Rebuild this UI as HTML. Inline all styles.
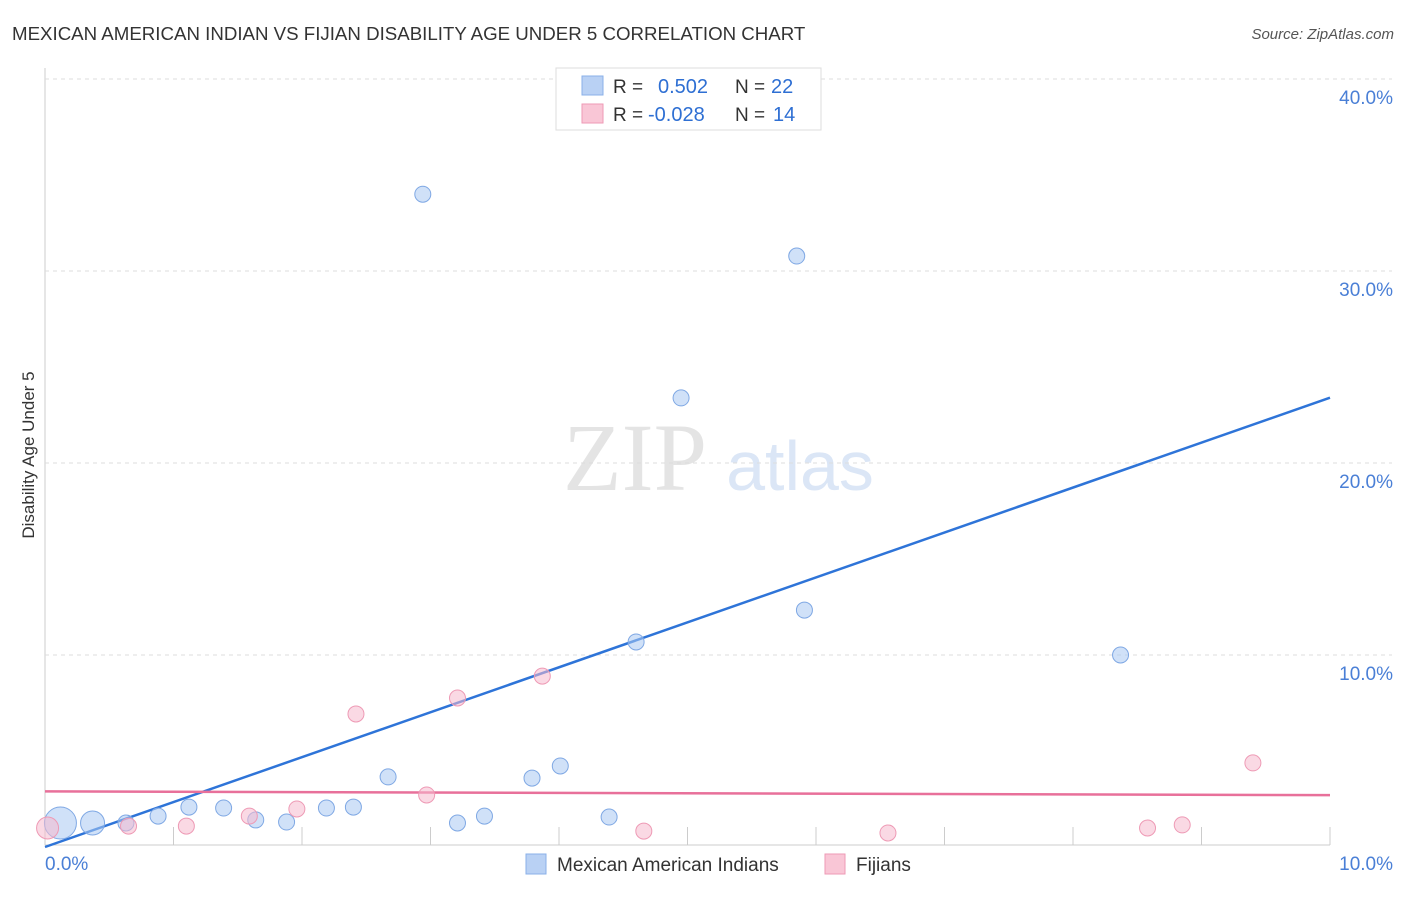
<!DOCTYPE html>
<html><head><meta charset="utf-8"><style>
body{margin:0;background:#fff;font-family:"Liberation Sans",sans-serif}
svg text{font-family:"Liberation Sans",sans-serif}
</style></head><body>
<svg id="c" width="1406" height="892">
<text x="12" y="40" font-size="18.7" fill="#333">MEXICAN AMERICAN INDIAN VS FIJIAN DISABILITY AGE UNDER 5 CORRELATION CHART</text>
<text x="1394" y="39" font-size="15" fill="#555" font-style="italic" text-anchor="end">Source: ZipAtlas.com</text>
<text x="34" y="455" font-size="17" fill="#333" text-anchor="middle" transform="rotate(-90 34 455)">Disability Age Under 5</text>
<g><text x="635" y="490" font-size="96" fill="#e4e4e4" style="font-family:'Liberation Serif',serif" text-anchor="middle">ZIP</text><text x="800" y="490" font-size="70" fill="#dbe6f6" text-anchor="middle">atlas</text></g>
<g id="grid"></g><g id="lines"></g><g id="pts"></g>
<g>
<rect x="556" y="68" width="265" height="62" fill="#fff" stroke="#ddd"/>
<rect x="582" y="76" width="21" height="19" fill="#b9d1f4" stroke="#8ab0e8"/>
<text x="613" y="93" font-size="19" fill="#333">R =</text><text x="658" y="93" font-size="20" fill="#2e6fd3">0.502</text>
<text x="735" y="93" font-size="19" fill="#333">N =</text><text x="771" y="93" font-size="20" fill="#2e6fd3">22</text>
<rect x="582" y="104" width="21" height="19" fill="#f9c6d6" stroke="#ee9ab5"/>
<text x="613" y="121" font-size="19" fill="#333">R =</text><text x="648" y="121" font-size="20" fill="#2e6fd3">-0.028</text>
<text x="735" y="121" font-size="19" fill="#333">N =</text><text x="773" y="121" font-size="20" fill="#2e6fd3">14</text>
</g>
<g>
<rect x="526" y="854" width="20" height="20" fill="#b9d1f4" stroke="#8ab0e8"/>
<text x="557" y="871" font-size="19" fill="#333">Mexican American Indians</text>
<rect x="825" y="854" width="20" height="20" fill="#f9c6d6" stroke="#ee9ab5"/>
<text x="856" y="871" font-size="19" fill="#333">Fijians</text>
</g>
</svg>
<script>
const blueX=[0.12,0.37,0.63,0.88,1.12,1.39,1.64,1.88,2.19,2.40,2.67,2.94,3.21,3.42,3.79,4.01,4.39,4.60,4.95,5.85,5.91,8.37];
const blueY=[1.25,1.25,1.25,1.61,2.08,2.03,1.41,1.30,2.03,2.08,3.65,34.0,1.25,1.61,3.59,4.22,1.56,10.68,23.39,30.78,12.34,10.0];
const pinkX=[0.02,0.65,1.10,1.59,1.96,2.42,2.97,3.21,3.87,4.66,6.56,8.58,8.85,9.40];
const pinkY=[0.99,1.09,1.09,1.61,1.98,6.93,2.71,7.76,8.9,0.83,0.73,0.99,1.15,4.38];
const blueTrend=[0,23.4];
const pinkTrend=[2.9,2.7];
const yTicks=[10,20,30,40];
const yTickLabels=["10.0%","20.0%","30.0%","40.0%"];
const xLabels=["0.0%","10.0%"];
const NS="http://www.w3.org/2000/svg";
const X=v=>45+v*128.5, Y=v=>847-v*19.2;
function mk(p,t,a){const e=document.createElementNS(NS,t);for(const k in a)e.setAttribute(k,a[k]);p.appendChild(e);return e;}
const g=document.getElementById('grid');
let ax=mk(g,'line',{x1:45,y1:68,x2:45,y2:845,stroke:'#ccc'});


let bx=mk(g,'line',{x1:45,y1:845,x2:1330,y2:845,stroke:'#ccc'});


for(let i=1;i<=10;i++){const t=mk(g,'line',{x1:X(i),y1:827,x2:X(i),y2:845,stroke:'#ccc'});

}
yTicks.forEach((v,i)=>{const l=mk(g,'line',{x1:45,y1:Y(v),x2:1392,y2:Y(v),stroke:'#ddd','stroke-dasharray':'4,4'});


const t=mk(g,'text',{x:1393,y:Y(v)+25,'font-size':19,fill:'#4a7fd6','text-anchor':'end'});t.textContent=yTickLabels[i];

});
xLabels.forEach((s,i)=>{const t=mk(g,'text',{x:i?1393:45,y:870,'font-size':19,fill:'#4a7fd6','text-anchor':i?'end':'start'});t.textContent=s;

});
const L=document.getElementById('lines');
let t1=mk(L,'line',{x1:X(0),y1:Y(blueTrend[0]),x2:X(10),y2:Y(blueTrend[1]),stroke:'#2e74d8','stroke-width':2.5});


let t2=mk(L,'line',{x1:X(0),y1:Y(pinkTrend[0]),x2:X(10),y2:Y(pinkTrend[1]),stroke:'#e8709a','stroke-width':2.5});


const P=document.getElementById('pts');
blueX.forEach((x,i)=>{const r=i==0?16:i==1?12:8;const c=mk(P,'circle',{cx:X(x),cy:Y(blueY[i]),r:r,fill:'rgba(170,200,242,0.55)',stroke:'#7fa8e4','stroke-width':1});

});
pinkX.forEach((x,i)=>{const r=i==0?11:8;const c=mk(P,'circle',{cx:X(x),cy:Y(pinkY[i]),r:r,fill:'rgba(246,185,205,0.55)',stroke:'#ee9ab5','stroke-width':1});

});
</script>
</body></html>
